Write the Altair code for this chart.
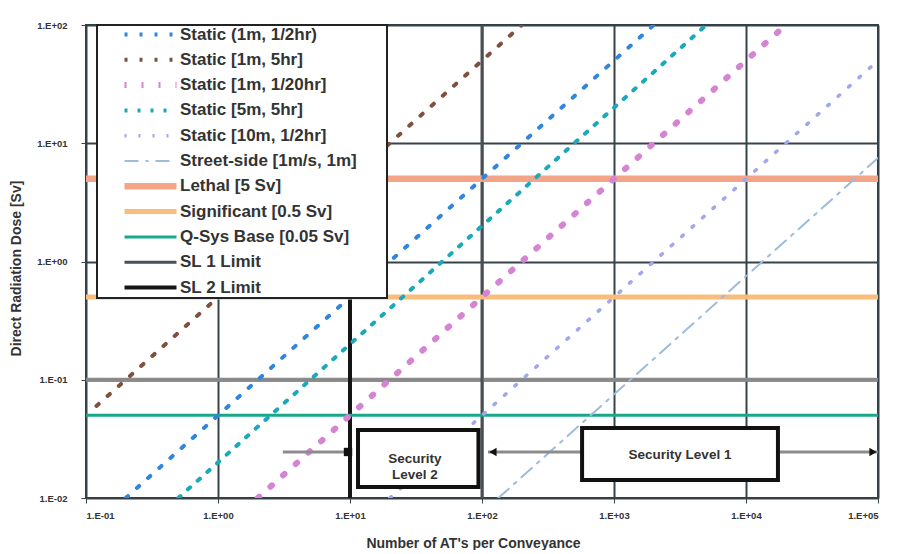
import altair as alt
import pandas as pd

# ---- legend / series names ----
series = [
    "Static (1m, 1/2hr)", "Static [1m, 5hr]", "Static [1m, 1/20hr]",
    "Static [5m, 5hr]", "Static [10m, 1/2hr]", "Street-side [1m/s, 1m]",
    "Lethal [5 Sv]", "Significant [0.5 Sv]", "Q-Sys Base [0.05 Sv]",
    "SL 1 Limit", "SL 2 Limit",
]
colors = ["#2f86dc", "#80503f", "#d484d2", "#19a9bb", "#a2a6ea", "#9dbbdc",
          "#f4a487", "#f8bd7d", "#18a98b", "#4a4f55", "#151515"]
dashes = [[3, 12], [3, 12], [2, 15], [3, 10], [2, 12], [14, 7, 3, 7],
          [1, 0], [1, 0], [1, 0], [1, 0], [1, 0]]
widths = [4, 4, 6, 4, 3.5, 2, 6.5, 5, 3, 3, 4]

# ---- diagonal (static / street-side) series: end points ----
diag_names = series[:6]
diag_x0 = [0.2, 0.12, 2, 0.5, 20, 133]
diag_x1 = [2000, 200, 20000, 5000, 100000, 100000]
diag_y0 = [0.01, 0.06, 0.01, 0.01, 0.01, 0.01]
diag_y1 = [100, 100, 100, 100, 50, 7.5]

# ---- horizontal dose thresholds ----
hline_names = ["Lethal [5 Sv]", "Significant [0.5 Sv]", "Q-Sys Base [0.05 Sv]"]
hline_y = [5, 0.5, 0.05]

# ---- vertical security-level limits ----
vline_names = ["SL 1 Limit", "SL 2 Limit"]
vline_x = [100, 10]

# ---- extra gridline ----
grid_y = [0.1]

# ---- annotation boxes ----
box_x0 = [11.5, 573]
box_x1 = [94, 17460]
box_y0 = [0.0124, 0.0142]
box_y1 = [0.0376, 0.0391]
box_text = ["Security\nLevel 2", "Security Level 1"]
text_x = [31, 3162]
text_y = [0.0215, 0.0233]

# ---- arrows ----
arrow_x0 = [3.1, 111, 17460]
arrow_x1 = [10, 573, 100000]
arrow_y = [0.0245, 0.0245, 0.0245]
head_x = [9.66, 121, 91600]
head_y = [0.0245, 0.0245, 0.0245]
head_shape = ["square", "triangle-left", "triangle-right"]

x_ticks = [0.1, 1, 10, 100, 1000, 10000, 100000]
y_ticks = [0.01, 0.1, 1, 10, 100]

# ---- build tables ----
rows = []
for n, a, b, c, d in zip(diag_names, diag_x0, diag_x1, diag_y0, diag_y1):
    rows.append({"series": n, "x": a, "y": c, "o": 0})
    rows.append({"series": n, "x": b, "y": d, "o": 1})
diag_df = pd.DataFrame(rows)
h_df = pd.DataFrame({"series": hline_names, "y": hline_y})
v_df = pd.DataFrame({"series": vline_names, "x": vline_x})
g_df = pd.DataFrame({"y": grid_y})
box_df = pd.DataFrame({"x0": box_x0, "x1": box_x1, "y0": box_y0, "y1": box_y1})
txt_df = pd.DataFrame({"x": text_x, "y": text_y, "t": box_text})
arr_df = pd.DataFrame({"x0": arrow_x0, "x1": arrow_x1, "y": arrow_y})
head_df = pd.DataFrame({"x": head_x, "y": head_y, "shape": head_shape})

label_expr = ("'1.E' + (datum.value >= 1 ? '+' : '-') + "
              "pad(toString(abs(round(log(datum.value) / LN10))), 2, '0', 'left')")

xscale = alt.Scale(type="log", domain=[0.1, 100000], nice=False)
yscale = alt.Scale(type="log", domain=[0.01, 100], nice=False)

x_axis = alt.Axis(values=x_ticks, labelExpr=label_expr, title="Number of AT's per Conveyance",
                  titleX=387, titleY=45, titleBaseline="middle", labelPadding=7)
y_axis = alt.Axis(values=y_ticks, labelExpr=label_expr, title="Direct Radiation Dose [Sv]",
                  titleX=-70, titleY=243, titleBaseline="middle", titleAngle=-90,
                  labelPadding=14)

legend = alt.Legend(
    title=None, orient="none", legendX=11, legendY=0,
    fillColor="white", strokeColor="#222", padding=1,
    symbolType="M-5.2,0H5.2", symbolSize=100, symbolOffset=44,
    labelOffset=21, labelFont="Liberation Sans", labelFontWeight="bold",
    labelFontSize=17, labelColor="#333", rowPadding=7.3, labelLimit=500,
    clipHeight=17,
    labelExpr="datum.label + '\u00a0\u00a0\u00a0\u00a0\u00a0\u00a0\u200b'",
)


def style_enc():
    return dict(
        color=alt.Color("series:N", scale=alt.Scale(domain=series, range=colors), legend=legend),
        strokeDash=alt.StrokeDash("series:N", scale=alt.Scale(domain=series, range=dashes), legend=legend),
        strokeWidth=alt.StrokeWidth("series:N", scale=alt.Scale(type="ordinal", domain=series, range=widths),
                                    legend=legend),
    )


base_axes = alt.Chart(g_df).mark_rule(color="#8a8a8a", strokeWidth=4).encode(
    y=alt.Y("y:Q", scale=yscale, axis=y_axis),
    x=alt.value(0), x2=alt.value(792),
)

vrules = alt.Chart(v_df).mark_rule().encode(
    x=alt.X("x:Q", scale=xscale, axis=x_axis), **style_enc()
)

hrules = alt.Chart(h_df).mark_rule().encode(
    y=alt.Y("y:Q", scale=yscale), **style_enc()
)

lines = alt.Chart(diag_df).mark_line(strokeCap="round", clip=True).encode(
    x=alt.X("x:Q", scale=xscale),
    y=alt.Y("y:Q", scale=yscale),
    order="o:O",
    detail="series:N",
    **style_enc()
)

arrows = alt.Chart(arr_df).mark_rule(color="#8c8c8c", strokeWidth=3).encode(
    x=alt.X("x0:Q", scale=xscale), x2="x1:Q", y=alt.Y("y:Q", scale=yscale)
)

heads = alt.Chart(head_df).mark_point(filled=True, color="#111", size=70, opacity=1).encode(
    x=alt.X("x:Q", scale=xscale), y=alt.Y("y:Q", scale=yscale),
    shape=alt.Shape("shape:N", scale=None, legend=None),
)

boxes = alt.Chart(box_df).mark_rect(fill="white", stroke="#111", strokeWidth=4).encode(
    x=alt.X("x0:Q", scale=xscale), x2="x1:Q",
    y=alt.Y("y0:Q", scale=yscale), y2="y1:Q",
)

texts = alt.Chart(txt_df).mark_text(
    font="Liberation Sans", fontWeight="bold", fontSize=13.5, color="#333",
    lineBreak="\n", lineHeight=16,
).encode(x=alt.X("x:Q", scale=xscale), y=alt.Y("y:Q", scale=yscale), text="t:N")

chart = alt.layer(base_axes, vrules, hrules, lines, arrows, heads, boxes, texts).properties(
    width=792, height=473,
    autosize=alt.AutoSizeParams(type="none"),
    padding={"left": 78, "top": 17, "right": 19, "bottom": 52},
    background="white",
).configure_view(
    stroke="#2f3a40", strokeWidth=2
).configure_axis(
    grid=True, gridColor="#36434a", gridWidth=2, domain=False,
    tickColor="#36434a", tickSize=5,
    labelFont="Liberation Sans", labelFontWeight="bold", labelFontSize=9.5, labelColor="#333",
    titleFont="Liberation Sans", titleFontWeight="bold", titleFontSize=14, titleColor="#333",
).configure_legend(strokeWidth=2)

chart.save("out.html", embed_options={"renderer": "svg", "actions": False})
